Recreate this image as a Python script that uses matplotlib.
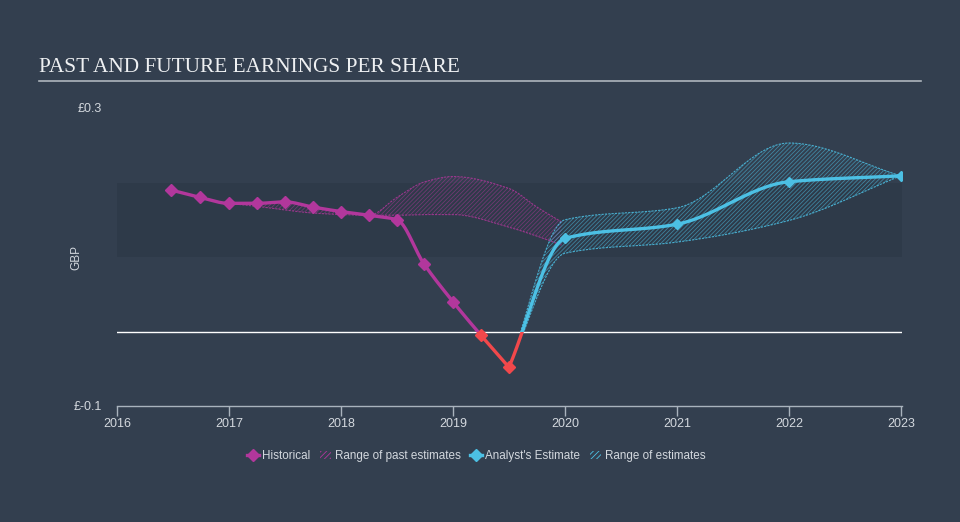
import numpy as np
import matplotlib
matplotlib.use("Agg")
import matplotlib.pyplot as plt
from matplotlib.lines import Line2D
from matplotlib.patches import Patch, Rectangle

# data
hist_x = [2016.48, 2016.74, 2017.0, 2017.25, 2017.5, 2017.75, 2018.0, 2018.25,
          2018.5, 2018.74, 2019.0, 2019.25, 2019.5]
hist_y = [0.190, 0.180, 0.172, 0.172, 0.174, 0.167, 0.161, 0.156,
          0.150, 0.091, 0.040, -0.005, -0.048]

past_x = [2017.0, 2017.25, 2017.5, 2017.75, 2018.0, 2018.25, 2018.5, 2018.75,
          2019.0, 2019.5, 2019.75, 2019.97]
past_hi = [0.172, 0.172, 0.174, 0.167, 0.161, 0.156, 0.180, 0.201,
           0.208, 0.192, 0.167, 0.147]
past_lo = [0.172, 0.168, 0.163, 0.159, 0.157, 0.156, 0.156, 0.157,
           0.157, 0.140, 0.128, 0.116]

fc_x = [2019.5, 2020.0, 2021.0, 2022.0, 2023.0]
fc_y = [-0.048, 0.125, 0.144, 0.201, 0.209]
fc_hi = [-0.048, 0.150, 0.166, 0.253, 0.209]
fc_lo = [-0.048, 0.105, 0.120, 0.149, 0.209]

year_ticks = [2016, 2017, 2018, 2019, 2020, 2021, 2022, 2023]
y_ticks = [-0.1, 0.3]
y_tick_labels = ["£-0.1", "£0.3"]

BG = "#333f4f"
BAND = "#2e3a49"
MAG = "#b2379c"
CYAN = "#4cc0e4"
RED = "#f2484b"
TXT = "#d3d8de"
SANS = ["Liberation Sans", "DejaVu Sans"]


def smooth(x, y, n=30):
    # monotone cubic, only for drawing the curves
    x = np.asarray(x, float)
    y = np.asarray(y, float)
    h = np.diff(x)
    d = np.diff(y) / h
    m = np.zeros_like(y)
    m[0], m[-1] = d[0], d[-1]
    for i in range(1, len(x) - 1):
        if d[i - 1] * d[i] <= 0:
            m[i] = 0
        else:
            m[i] = 3 * (h[i - 1] + h[i]) / ((2 * h[i] + h[i - 1]) / d[i - 1]
                                            + (h[i] + 2 * h[i - 1]) / d[i])
    xs, ys = [], []
    for i in range(len(h)):
        t = np.linspace(0, 1, n, endpoint=(i == len(h) - 1))
        h00 = 2 * t**3 - 3 * t**2 + 1
        h10 = t**3 - 2 * t**2 + t
        h01 = -2 * t**3 + 3 * t**2
        h11 = t**3 - t**2
        xs.append(x[i] + t * h[i])
        ys.append(h00 * y[i] + h10 * h[i] * m[i] + h01 * y[i + 1] + h11 * h[i] * m[i + 1])
    return np.concatenate(xs), np.concatenate(ys)


plt.rcParams["hatch.linewidth"] = 0.6
fig = plt.figure(figsize=(9.6, 5.22), dpi=100, facecolor=BG)
ax = fig.add_axes([117 / 960, 1 - 406 / 522, 785 / 960, 298 / 522])
ax.set_facecolor(BG)
ax.set_xlim(2016, 2023.01)
ax.set_ylim(-0.1, 0.3)

ax.axhspan(0.1, 0.2, color=BAND, zorder=0, lw=0)
ax.axhline(0, color="white", lw=1.0, zorder=2)

pos_clip = Rectangle((2015, 0), 10, 1, transform=ax.transData)
neg_clip = Rectangle((2015, -1), 10, 1, transform=ax.transData)

# past estimate range
sx, shi = smooth(past_x, past_hi)
_, slo = smooth(past_x, past_lo)
ax.fill_between(sx, slo, shi, facecolor="none", edgecolor=MAG, hatch="////////",
                lw=0, alpha=0.5, zorder=3)
ax.plot(sx, shi, color=MAG, lw=0.8, ls=(0, (2, 1)), alpha=0.8, zorder=3)
ax.plot(sx, slo, color=MAG, lw=0.8, ls=(0, (2, 1)), alpha=0.8, zorder=3)

# forecast range
fx, fhi = smooth(fc_x, fc_hi)
_, flo = smooth(fc_x, fc_lo)
fb = ax.fill_between(fx, flo, fhi, facecolor="none", edgecolor=CYAN, hatch="////////",
                     lw=0, alpha=0.55, zorder=3)
fb.set_clip_path(pos_clip)
for yy in (fhi, flo):
    l, = ax.plot(fx, yy, color=CYAN, lw=0.8, ls=(0, (2, 1)), alpha=0.85, zorder=3)
    l.set_clip_path(pos_clip)

# lines, red where negative
hx, hy = smooth(hist_x, hist_y)
cx, cy = smooth(fc_x, fc_y)
for xs, ys, col in ((hx, hy, MAG), (cx, cy, CYAN)):
    l1, = ax.plot(xs, ys, color=col, lw=2.4, zorder=4, solid_capstyle="round")
    l1.set_clip_path(pos_clip)
    l2, = ax.plot(xs, ys, color=RED, lw=2.4, zorder=4, solid_capstyle="round")
    l2.set_clip_path(neg_clip)

hx_a, hy_a = np.array(hist_x), np.array(hist_y)
neg = hy_a < 0
ax.plot(hx_a[~neg], hy_a[~neg], ls="none", marker="D", ms=6, color=MAG, zorder=5)
ax.plot(hx_a[neg], hy_a[neg], ls="none", marker="D", ms=6, color=RED, zorder=5)
ax.plot(fc_x[1:], fc_y[1:], ls="none", marker="D", ms=5, color=CYAN, zorder=5)

# axes styling
for s in ("top", "right", "left"):
    ax.spines[s].set_visible(False)
ax.spines["bottom"].set_color("#a9b3bd")
ax.spines["bottom"].set_linewidth(1.0)
ax.set_xticks(year_ticks)
ax.set_xticklabels([str(y) for y in year_ticks], family=SANS)
ax.tick_params(axis="x", colors="#a9b3bd", length=7, width=1, labelcolor=TXT,
               labelsize=9, pad=1.5)
ax.set_yticks(y_ticks)
ax.set_yticklabels(y_tick_labels, family=SANS)
ax.tick_params(axis="y", length=0, labelcolor=TXT, labelsize=9, pad=11)
ax.set_ylabel("GBP", color=TXT, fontsize=8.5, family=SANS)
ax.yaxis.set_label_coords(-0.0446, 0.5)

fig.text(39 / 960, 1 - 67 / 522, "PAST AND FUTURE EARNINGS PER SHARE",
         family=["Liberation Serif", "DejaVu Serif"], fontsize=15.3,
         color="#eef0f2", va="center", ha="left")
fig.add_artist(Line2D([39 / 960, 921 / 960], [1 - 81 / 522, 1 - 81 / 522],
                      color="#aeb5bd", lw=1.2))

handles = [
    Line2D([], [], color=MAG, lw=2.4, marker="D", ms=6),
    Patch(facecolor="none", edgecolor=MAG, hatch="//////", lw=0),
    Line2D([], [], color=CYAN, lw=2.4, marker="D", ms=6),
    Patch(facecolor="none", edgecolor=CYAN, hatch="//////", lw=0),
]
labels = ["Historical", "Range of past estimates", "Analyst's Estimate", "Range of estimates"]
leg = fig.legend(handles, labels, loc="center", bbox_to_anchor=(0.496, 1 - 456 / 522),
                 ncol=4, frameon=False, labelcolor=TXT,
                 prop={"family": SANS, "size": 8.4},
                 handlelength=1.0, handletextpad=0.3, columnspacing=0.8,
                 borderpad=0)

fig.savefig("out.png", dpi=100, facecolor=BG)
